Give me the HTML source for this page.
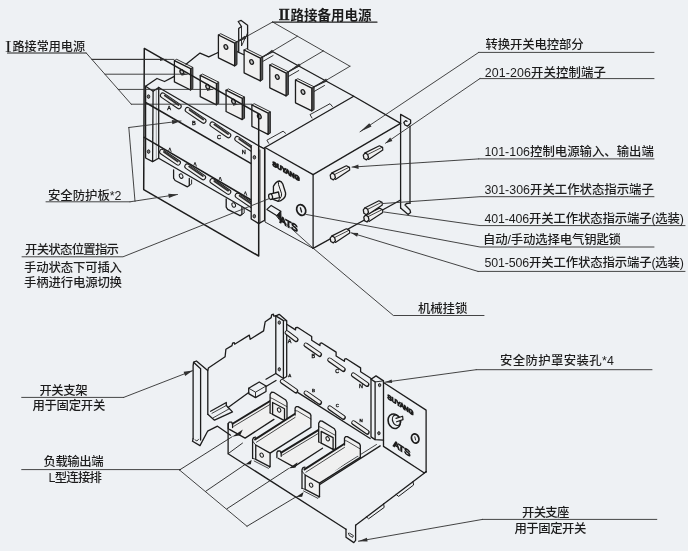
<!DOCTYPE html>
<html lang="zh"><head><meta charset="utf-8"><title>ATS</title>
<style>
html,body{margin:0;padding:0;background:#eef1f4;}
body{width:688px;height:551px;overflow:hidden;position:relative;}
svg{position:absolute;left:0;top:0;display:block;}
svg text{font-family:"Liberation Sans","Noto Sans CJK SC",sans-serif;fill:#1e1e1e;font-weight:500;}
svg g.all{filter:url(#gs);}
path{stroke-linejoin:round;stroke-linecap:round;}
</style></head><body>
<svg width="688" height="551" viewBox="0 0 688 551">
<defs><filter id="gs" filterUnits="userSpaceOnUse" x="0" y="0" width="688" height="551"><feColorMatrix type="saturate" values="0" result="g"/><feGaussianBlur in="g" stdDeviation="0.3"/></filter></defs>
<rect x="0" y="0" width="688" height="551" fill="#eef1f4"/>
<g class="all">
<path d="M272.80 51.80 L353.75 96.25" fill="none" stroke="#1c1c1c" stroke-width="1.30" />
<path d="M234.40 50.40 L244.40 55.00" fill="none" stroke="#1c1c1c" stroke-width="1.30" />
<path d="M234.70 43.10 L246.90 36.20" fill="none" stroke="#1c1c1c" stroke-width="1.30" />
<path d="M260.40 58.10 L272.60 51.20" fill="none" stroke="#1c1c1c" stroke-width="1.30" />
<path d="M262.70 61.50 L273.10 55.50" fill="none" stroke="#1c1c1c" stroke-width="0.90" />
<path d="M286.10 73.10 L298.30 66.20" fill="none" stroke="#1c1c1c" stroke-width="1.30" />
<path d="M288.40 76.50 L298.80 70.50" fill="none" stroke="#1c1c1c" stroke-width="0.90" />
<path d="M311.80 88.10 L324.00 81.20" fill="none" stroke="#1c1c1c" stroke-width="1.30" />
<path d="M314.10 91.50 L324.50 85.50" fill="none" stroke="#1c1c1c" stroke-width="0.90" />
<path d="M238.70 51.50 L238.70 28.50 L241.50 26.50 L238.20 21.50 L241.20 20.40 L247.60 25.20 L247.60 48.50" fill="none" stroke="#1c1c1c" stroke-width="1.30" />
<path d="M241.50 26.50 L241.50 46.00 L247.60 33.00" fill="none" stroke="#1c1c1c" stroke-width="0.90" />
<path d="M234.70 43.15 L237.00 41.85 L237.00 64.65 L234.70 65.95 Z" fill="#555" stroke="#1c1c1c" stroke-width="0.90" />
<path d="M218.40 35.00 L220.70 33.70 L237.00 41.85 L234.70 43.15 Z" fill="#eef1f4" stroke="#1c1c1c" stroke-width="0.90" />
<path d="M218.40 35.00 L234.70 43.15 L234.70 65.95 L218.40 57.80 Z" fill="#eef1f4" stroke="#1c1c1c" stroke-width="1.30" />
<ellipse cx="225.90" cy="46.96" rx="1.70" ry="2.40" fill="#c8c8c8" stroke="#1c1c1c" stroke-width="1.30" transform="rotate(-25 225.90 46.96)"/>
<path d="M260.40 58.15 L262.70 56.85 L262.70 79.65 L260.40 80.95 Z" fill="#555" stroke="#1c1c1c" stroke-width="0.90" />
<path d="M244.10 50.00 L246.40 48.70 L262.70 56.85 L260.40 58.15 Z" fill="#eef1f4" stroke="#1c1c1c" stroke-width="0.90" />
<path d="M244.10 50.00 L260.40 58.15 L260.40 80.95 L244.10 72.80 Z" fill="#eef1f4" stroke="#1c1c1c" stroke-width="1.30" />
<ellipse cx="251.60" cy="61.96" rx="1.70" ry="2.40" fill="#c8c8c8" stroke="#1c1c1c" stroke-width="1.30" transform="rotate(-25 251.60 61.96)"/>
<path d="M286.10 73.15 L288.40 71.85 L288.40 94.65 L286.10 95.95 Z" fill="#555" stroke="#1c1c1c" stroke-width="0.90" />
<path d="M269.80 65.00 L272.10 63.70 L288.40 71.85 L286.10 73.15 Z" fill="#eef1f4" stroke="#1c1c1c" stroke-width="0.90" />
<path d="M269.80 65.00 L286.10 73.15 L286.10 95.95 L269.80 87.80 Z" fill="#eef1f4" stroke="#1c1c1c" stroke-width="1.30" />
<ellipse cx="277.30" cy="76.96" rx="1.70" ry="2.40" fill="#c8c8c8" stroke="#1c1c1c" stroke-width="1.30" transform="rotate(-25 277.30 76.96)"/>
<path d="M311.80 88.15 L314.10 86.85 L314.10 109.65 L311.80 110.95 Z" fill="#555" stroke="#1c1c1c" stroke-width="0.90" />
<path d="M295.50 80.00 L297.80 78.70 L314.10 86.85 L311.80 88.15 Z" fill="#eef1f4" stroke="#1c1c1c" stroke-width="0.90" />
<path d="M295.50 80.00 L311.80 88.15 L311.80 110.95 L295.50 102.80 Z" fill="#eef1f4" stroke="#1c1c1c" stroke-width="1.30" />
<ellipse cx="303.00" cy="91.96" rx="1.70" ry="2.40" fill="#c8c8c8" stroke="#1c1c1c" stroke-width="1.30" transform="rotate(-25 303.00 91.96)"/>
<path d="M190.60 68.70 L192.90 67.40 L192.90 88.70 L190.60 90.00 Z" fill="#555" stroke="#1c1c1c" stroke-width="0.90" />
<path d="M174.40 60.60 L176.70 59.30 L192.90 67.40 L190.60 68.70 Z" fill="#eef1f4" stroke="#1c1c1c" stroke-width="0.90" />
<path d="M174.40 60.60 L190.60 68.70 L190.60 90.00 L174.40 81.90 Z" fill="#eef1f4" stroke="#1c1c1c" stroke-width="1.30" />
<ellipse cx="181.85" cy="71.99" rx="1.70" ry="2.40" fill="#c8c8c8" stroke="#1c1c1c" stroke-width="1.30" transform="rotate(-25 181.85 71.99)"/>
<path d="M216.43 83.50 L218.73 82.20 L218.73 103.50 L216.43 104.80 Z" fill="#555" stroke="#1c1c1c" stroke-width="0.90" />
<path d="M200.23 75.40 L202.53 74.10 L218.73 82.20 L216.43 83.50 Z" fill="#eef1f4" stroke="#1c1c1c" stroke-width="0.90" />
<path d="M200.23 75.40 L216.43 83.50 L216.43 104.80 L200.23 96.70 Z" fill="#eef1f4" stroke="#1c1c1c" stroke-width="1.30" />
<ellipse cx="207.68" cy="86.79" rx="1.70" ry="2.40" fill="#c8c8c8" stroke="#1c1c1c" stroke-width="1.30" transform="rotate(-25 207.68 86.79)"/>
<path d="M242.26 98.30 L244.56 97.00 L244.56 118.30 L242.26 119.60 Z" fill="#555" stroke="#1c1c1c" stroke-width="0.90" />
<path d="M226.06 90.20 L228.36 88.90 L244.56 97.00 L242.26 98.30 Z" fill="#eef1f4" stroke="#1c1c1c" stroke-width="0.90" />
<path d="M226.06 90.20 L242.26 98.30 L242.26 119.60 L226.06 111.50 Z" fill="#eef1f4" stroke="#1c1c1c" stroke-width="1.30" />
<ellipse cx="233.51" cy="101.59" rx="1.70" ry="2.40" fill="#c8c8c8" stroke="#1c1c1c" stroke-width="1.30" transform="rotate(-25 233.51 101.59)"/>
<path d="M268.09 113.10 L270.39 111.80 L270.39 133.10 L268.09 134.40 Z" fill="#555" stroke="#1c1c1c" stroke-width="0.90" />
<path d="M251.89 105.00 L254.19 103.70 L270.39 111.80 L268.09 113.10 Z" fill="#eef1f4" stroke="#1c1c1c" stroke-width="0.90" />
<path d="M251.89 105.00 L268.09 113.10 L268.09 134.40 L251.89 126.30 Z" fill="#eef1f4" stroke="#1c1c1c" stroke-width="1.30" />
<ellipse cx="259.34" cy="116.39" rx="1.70" ry="2.40" fill="#c8c8c8" stroke="#1c1c1c" stroke-width="1.30" transform="rotate(-25 259.34 116.39)"/>
<path d="M145.60 86.30 L157.00 78.50 L164.50 81.50 L174.40 76.30" fill="none" stroke="#1c1c1c" stroke-width="1.30" />
<path d="M186.00 64.20 L200.00 53.10 L208.75 56.90 L218.10 52.50" fill="none" stroke="#1c1c1c" stroke-width="1.30" />
<path d="M145.60 86.30 L145.60 158.00 L152.60 161.60 L158.70 158.20 L158.70 87.50" fill="none" stroke="#1c1c1c" stroke-width="1.30" />
<path d="M153.10 91.20 L152.60 161.60" fill="none" stroke="#1c1c1c" stroke-width="1.30" />
<path d="M145.60 86.30 L153.10 91.20 L158.70 87.50" fill="none" stroke="#1c1c1c" stroke-width="1.30" />
<path d="M156.30 89.20 L156.30 159.50" fill="none" stroke="#555" stroke-width="0.50" />
<ellipse cx="148.50" cy="96.60" rx="1.30" ry="1.80" fill="#777" stroke="#1c1c1c" stroke-width="0.90" transform="rotate(0 148.50 96.60)"/>
<ellipse cx="148.60" cy="151.60" rx="1.30" ry="1.80" fill="#777" stroke="#1c1c1c" stroke-width="0.90" transform="rotate(0 148.60 151.60)"/>
<path d="M158.70 87.50 L263.75 148.75" fill="none" stroke="#1c1c1c" stroke-width="1.30" />
<path d="M145.60 102.50 L251.20 163.60" fill="none" stroke="#1c1c1c" stroke-width="1.50" />
<path d="M144.20 137.40 L251.20 200.00" fill="none" stroke="#1c1c1c" stroke-width="1.50" />
<path d="M158.70 158.20 L250.50 211.50" fill="none" stroke="#1c1c1c" stroke-width="1.30" />
<path d="M162.80 95.40 L178.80 106.33" stroke="#1c1c1c" stroke-width="5.8" stroke-linecap="round" fill="none"/>
<path d="M162.80 95.40 L178.80 106.33" stroke="#eef1f4" stroke-width="3.7" stroke-linecap="round" fill="none"/>
<path d="M164.80 95.50 L178.50 105.03" stroke="#333" stroke-width="1.9" stroke-linecap="butt" fill="none"/>
<path d="M187.60 109.90 L203.60 120.83" stroke="#1c1c1c" stroke-width="5.8" stroke-linecap="round" fill="none"/>
<path d="M187.60 109.90 L203.60 120.83" stroke="#eef1f4" stroke-width="3.7" stroke-linecap="round" fill="none"/>
<path d="M189.60 110.00 L203.30 119.53" stroke="#333" stroke-width="1.9" stroke-linecap="butt" fill="none"/>
<path d="M212.40 124.40 L228.40 135.32" stroke="#1c1c1c" stroke-width="5.8" stroke-linecap="round" fill="none"/>
<path d="M212.40 124.40 L228.40 135.32" stroke="#eef1f4" stroke-width="3.7" stroke-linecap="round" fill="none"/>
<path d="M214.40 124.50 L228.10 134.03" stroke="#333" stroke-width="1.9" stroke-linecap="butt" fill="none"/>
<path d="M237.20 138.90 L253.20 149.82" stroke="#1c1c1c" stroke-width="5.8" stroke-linecap="round" fill="none"/>
<path d="M237.20 138.90 L253.20 149.82" stroke="#eef1f4" stroke-width="3.7" stroke-linecap="round" fill="none"/>
<path d="M239.20 139.00 L252.90 148.53" stroke="#333" stroke-width="1.9" stroke-linecap="butt" fill="none"/>
<path d="M162.00 151.80 L178.00 162.72" stroke="#1c1c1c" stroke-width="5.8" stroke-linecap="round" fill="none"/>
<path d="M162.00 151.80 L178.00 162.72" stroke="#eef1f4" stroke-width="3.7" stroke-linecap="round" fill="none"/>
<path d="M164.00 151.90 L177.70 161.43" stroke="#333" stroke-width="1.9" stroke-linecap="butt" fill="none"/>
<path d="M168.80 150.40 L169.80 147.80 L171.10 151.50" fill="none" stroke="#1c1c1c" stroke-width="0.90" />
<path d="M187.20 166.40 L203.20 177.32" stroke="#1c1c1c" stroke-width="5.8" stroke-linecap="round" fill="none"/>
<path d="M187.20 166.40 L203.20 177.32" stroke="#eef1f4" stroke-width="3.7" stroke-linecap="round" fill="none"/>
<path d="M189.20 166.50 L202.90 176.03" stroke="#333" stroke-width="1.9" stroke-linecap="butt" fill="none"/>
<path d="M194.00 165.00 L195.00 162.40 L196.30 166.10" fill="none" stroke="#1c1c1c" stroke-width="0.90" />
<path d="M212.40 181.00 L228.40 191.92" stroke="#1c1c1c" stroke-width="5.8" stroke-linecap="round" fill="none"/>
<path d="M212.40 181.00 L228.40 191.92" stroke="#eef1f4" stroke-width="3.7" stroke-linecap="round" fill="none"/>
<path d="M214.40 181.10 L228.10 190.62" stroke="#333" stroke-width="1.9" stroke-linecap="butt" fill="none"/>
<path d="M219.20 179.60 L220.20 177.00 L221.50 180.70" fill="none" stroke="#1c1c1c" stroke-width="0.90" />
<path d="M237.60 195.60 L253.60 206.52" stroke="#1c1c1c" stroke-width="5.8" stroke-linecap="round" fill="none"/>
<path d="M237.60 195.60 L253.60 206.52" stroke="#eef1f4" stroke-width="3.7" stroke-linecap="round" fill="none"/>
<path d="M239.60 195.70 L253.30 205.22" stroke="#333" stroke-width="1.9" stroke-linecap="butt" fill="none"/>
<path d="M244.40 194.20 L245.40 191.60 L246.70 195.30" fill="none" stroke="#1c1c1c" stroke-width="0.90" />
<path d="M173.60 169.90 L173.60 178.20 L175.10 180.50 L187.40 186.80 L189.30 185.50 L189.30 178.50" fill="none" stroke="#1c1c1c" stroke-width="1.30" />
<path d="M189.30 185.50 L191.60 184.10 L191.60 179.90" fill="none" stroke="#1c1c1c" stroke-width="0.90" />
<ellipse cx="181.10" cy="176.10" rx="1.70" ry="2.30" fill="none" stroke="#1c1c1c" stroke-width="1.00" transform="rotate(-25 181.10 176.10)"/>
<path d="M226.20 198.80 L226.20 207.10 L227.70 209.40 L240.00 215.70 L241.90 214.40 L241.90 207.40" fill="none" stroke="#1c1c1c" stroke-width="1.30" />
<path d="M241.90 214.40 L244.20 213.00 L244.20 208.80" fill="none" stroke="#1c1c1c" stroke-width="0.90" />
<ellipse cx="233.70" cy="205.00" rx="1.70" ry="2.30" fill="none" stroke="#1c1c1c" stroke-width="1.00" transform="rotate(-25 233.70 205.00)"/>
<path d="M251.20 145.60 L251.20 219.00 L258.70 223.60 L264.60 220.20 L264.60 148.90 L258.70 146.00" fill="#eef1f4" stroke="#1c1c1c" stroke-width="1.30" />
<path d="M258.70 149.00 L258.70 223.60" fill="none" stroke="#1c1c1c" stroke-width="0.90" />
<ellipse cx="254.40" cy="157.30" rx="1.30" ry="1.80" fill="#777" stroke="#1c1c1c" stroke-width="0.90" transform="rotate(0 254.40 157.30)"/>
<ellipse cx="254.30" cy="216.20" rx="1.30" ry="1.80" fill="#777" stroke="#1c1c1c" stroke-width="0.90" transform="rotate(0 254.30 216.20)"/>
<path d="M144.30 48.40 L258.70 113.75 L258.70 256.00 L143.70 189.60 Z" fill="none" stroke="#1c1c1c" stroke-width="1.50" />
<path d="M265.00 147.50 L353.75 96.25 L400.60 123.40" fill="none" stroke="#1c1c1c" stroke-width="1.30" />
<path d="M265.00 147.50 L313.10 174.60 L400.60 123.40" fill="none" stroke="#1c1c1c" stroke-width="1.30" />
<path d="M313.10 174.60 L313.10 248.40" fill="none" stroke="#1c1c1c" stroke-width="1.30" />
<path d="M265.00 147.50 L265.00 222.00 L313.10 248.40" fill="none" stroke="#1c1c1c" stroke-width="0.90" />
<path d="M313.10 248.40 L400.60 200.00" fill="none" stroke="#1c1c1c" stroke-width="1.30" />
<path d="M268.70 143.30 L266.90 140.20 L283.10 131.20 L285.60 133.30" fill="none" stroke="#1c1c1c" stroke-width="0.90" />
<path d="M312.00 118.00 L310.00 114.60 L330.00 103.70 L332.40 106.50" fill="none" stroke="#1c1c1c" stroke-width="0.90" />
<path d="M260.00 150.00 L260.00 222.50" fill="none" stroke="#1c1c1c" stroke-width="0.80" />
<path d="M400.60 208.10 L400.60 114.40 L410.60 120.00 L410.60 123.20 L407.50 126.20 L405.00 125.00 L403.80 122.50 L405.60 120.60 L407.00 121.30" fill="none" stroke="#1c1c1c" stroke-width="1.30" />
<path d="M410.00 126.20 L410.00 203.20" fill="none" stroke="#1c1c1c" stroke-width="1.30" />
<path d="M400.60 208.10 L408.10 214.40 L410.60 212.50 L410.00 210.00 L405.00 205.00 L406.50 203.50 L410.00 203.20" fill="none" stroke="#1c1c1c" stroke-width="1.30" />
<path d="M365.10 152.90 L379.40 145.75 L382.60 147.35 L382.80 150.05 L368.50 159.40" fill="#eef1f4" stroke="#1c1c1c" stroke-width="1.20" />
<path d="M367.50 154.60 L381.80 147.45" fill="none" stroke="#1c1c1c" stroke-width="0.80" />
<path d="M365.10 152.90 L367.70 154.50 L368.50 157.70 L366.50 159.90 L363.90 158.50 L363.30 155.10 Z" fill="#eef1f4" stroke="#1c1c1c" stroke-width="1.30" />
<path d="M332.00 172.90 L346.30 165.75 L349.50 167.35 L349.70 170.05 L335.40 179.40" fill="#eef1f4" stroke="#1c1c1c" stroke-width="1.20" />
<path d="M334.40 174.60 L348.70 167.45" fill="none" stroke="#1c1c1c" stroke-width="0.80" />
<path d="M332.00 172.90 L334.60 174.50 L335.40 177.70 L333.40 179.90 L330.80 178.50 L330.20 175.10 Z" fill="#eef1f4" stroke="#1c1c1c" stroke-width="1.30" />
<path d="M365.60 215.00 L379.40 208.10 L382.60 209.70 L382.80 212.40 L369.00 221.50" fill="#eef1f4" stroke="#1c1c1c" stroke-width="1.20" />
<path d="M368.00 216.70 L381.80 209.80" fill="none" stroke="#1c1c1c" stroke-width="0.80" />
<path d="M365.60 215.00 L368.20 216.60 L369.00 219.80 L367.00 222.00 L364.40 220.60 L363.80 217.20 Z" fill="#eef1f4" stroke="#1c1c1c" stroke-width="1.30" />
<path d="M365.10 207.70 L378.90 200.80 L382.10 202.40 L382.30 205.10 L368.50 214.20" fill="#eef1f4" stroke="#1c1c1c" stroke-width="1.20" />
<path d="M367.50 209.40 L381.30 202.50" fill="none" stroke="#1c1c1c" stroke-width="0.80" />
<path d="M365.10 207.70 L367.70 209.30 L368.50 212.50 L366.50 214.70 L363.90 213.30 L363.30 209.90 Z" fill="#eef1f4" stroke="#1c1c1c" stroke-width="1.30" />
<path d="M332.00 235.90 L346.30 228.75 L349.50 230.35 L349.70 233.05 L335.40 242.40" fill="#eef1f4" stroke="#1c1c1c" stroke-width="1.20" />
<path d="M334.40 237.60 L348.70 230.45" fill="none" stroke="#1c1c1c" stroke-width="0.80" />
<path d="M332.00 235.90 L334.60 237.50 L335.40 240.70 L333.40 242.90 L330.80 241.50 L330.20 238.10 Z" fill="#eef1f4" stroke="#1c1c1c" stroke-width="1.30" />
<path d="M273.4 186.4 Q275.8 181.6 279.3 181 Q281.6 181.2 282.8 184 L285.6 193 Q286 196.4 283.4 198.8 Q280.4 201.6 277.8 201.2 L273.6 199.6 Z" fill="#eef1f4" stroke="#1c1c1c" stroke-width="1.3"/>
<path d="M279.3 181 Q277.9 182.4 278.5 184.6 L281.6 193.8 Q282 196.6 279.7 198.8 L277.8 201.2" fill="none" stroke="#1c1c1c" stroke-width="1.0"/>
<path d="M270.80 193.90 L278.40 192.00 L279.60 197.60 L271.20 199.40" fill="#eef1f4" stroke="#1c1c1c" stroke-width="1.30" />
<ellipse cx="270.60" cy="196.70" rx="1.90" ry="2.80" fill="#eef1f4" stroke="#1c1c1c" stroke-width="1.30" transform="rotate(-12 270.60 196.70)"/>
<ellipse cx="301.20" cy="210.00" rx="4.30" ry="5.60" fill="none" stroke="#1c1c1c" stroke-width="1.70" transform="rotate(-25 301.20 210.00)"/>
<path d="M300.40 207.80 L301.60 212.00" fill="none" stroke="#1c1c1c" stroke-width="1.30" />
<path d="M266.90 209.40 L271.20 205.40 L280.80 211.20 L276.90 215.80 Z" fill="none" stroke="#1c1c1c" stroke-width="1.20" />
<path d="M276.90 215.80 L280.80 211.20 L281.20 221.60 Z" fill="#1c1c1c" stroke="#1c1c1c" stroke-width="1.00" />
<path d="M193.10 438.70 L193.10 365.80 L193.60 362.20 L196.40 361.00 L207.70 370.60" fill="none" stroke="#1c1c1c" stroke-width="1.30" />
<path d="M193.80 362.50 L200.60 368.80 L200.60 440.00" fill="none" stroke="#1c1c1c" stroke-width="1.30" />
<path d="M193.10 438.70 L192.50 441.30 L200.00 445.60 L207.60 431.20 L217.50 426.20 L230.50 435.20" fill="none" stroke="#1c1c1c" stroke-width="1.30" />
<path d="M195.00 439.80 L197.00 441.00 L198.60 439.20" fill="none" stroke="#1c1c1c" stroke-width="0.80" />
<path d="M207.80 414.40 L207.80 370.60 L208.40 368.00 L225.10 356.80 L225.90 349.30 L232.00 345.60 L232.60 343.20 L234.20 342.60 L234.60 344.20 L249.30 335.10 L250.20 339.30 L263.60 330.90 L265.20 321.70 L271.20 317.60 L271.60 314.80 L273.40 314.20 L273.80 316.20 L275.80 315.90" fill="none" stroke="#1c1c1c" stroke-width="1.30" />
<path d="M208.10 414.40 L214.50 420.20 L232.50 411.90 L226.30 405.50 L226.30 402.50 L210.60 411.30" fill="none" stroke="#1c1c1c" stroke-width="1.30" />
<path d="M226.30 405.50 L212.00 413.30" fill="none" stroke="#1c1c1c" stroke-width="0.80" />
<path d="M229.40 408.70 L213.20 417.80" fill="none" stroke="#1c1c1c" stroke-width="0.80" />
<path d="M228.10 407.50 L248.70 392.50" fill="none" stroke="#1c1c1c" stroke-width="1.30" />
<path d="M266.00 386.50 L276.00 380.50" fill="none" stroke="#1c1c1c" stroke-width="1.30" />
<path d="M248.70 388.20 L259.20 382.00 L266.00 386.00 L266.00 391.50 L255.50 397.60 L248.70 393.60 Z" fill="none" stroke="#1c1c1c" stroke-width="1.30" />
<path d="M248.70 388.20 L255.50 392.20 L255.50 397.60" fill="none" stroke="#1c1c1c" stroke-width="0.90" />
<path d="M255.50 392.20 L266.00 386.00" fill="none" stroke="#1c1c1c" stroke-width="0.90" />
<path d="M275.80 315.90 L275.80 373.50 L283.40 378.50 L286.70 376.50 L286.70 320.80 L279.20 314.30 Z" fill="none" stroke="#1c1c1c" stroke-width="1.30" />
<path d="M275.80 315.90 L283.40 320.60 L283.40 378.50" fill="none" stroke="#1c1c1c" stroke-width="1.30" />
<path d="M283.40 320.60 L286.70 320.80" fill="none" stroke="#1c1c1c" stroke-width="0.80" />
<ellipse cx="279.30" cy="322.60" rx="1.20" ry="1.70" fill="#777" stroke="#1c1c1c" stroke-width="0.90" transform="rotate(0 279.30 322.60)"/>
<ellipse cx="279.30" cy="369.30" rx="1.20" ry="1.70" fill="#777" stroke="#1c1c1c" stroke-width="0.90" transform="rotate(0 279.30 369.30)"/>
<path d="M275.80 373.50 L266.00 379.20" fill="none" stroke="#1c1c1c" stroke-width="1.30" />
<path d="M286.70 324.20 L295.50 329.86 L295.70 327.66 L297.40 327.28 L311.70 336.47 L311.70 340.27 L319.90 345.55 L320.10 343.35 L321.80 342.97 L336.10 352.16 L336.10 355.96 L344.40 361.30 L344.60 359.10 L346.30 358.72 L360.60 367.92 L360.60 371.72 L371.90 378.98" fill="none" stroke="#1c1c1c" stroke-width="1.30" />
<path d="M298.00 392.60 L370.20 438.50" fill="none" stroke="#1c1c1c" stroke-width="1.30" />
<path d="M287.00 332.80 L296.20 339.78" stroke="#1c1c1c" stroke-width="4.9" stroke-linecap="round" fill="none"/>
<path d="M286.90 332.50 L295.90 339.38" stroke="#eef1f4" stroke-width="2.7" stroke-linecap="round" fill="none"/>
<path d="M282.20 381.50 L295.90 391.06" stroke="#1c1c1c" stroke-width="4.9" stroke-linecap="round" fill="none"/>
<path d="M282.10 381.20 L295.60 390.66" stroke="#eef1f4" stroke-width="2.7" stroke-linecap="round" fill="none"/>
<path d="M305.95 345.05 L319.65 354.61" stroke="#1c1c1c" stroke-width="4.9" stroke-linecap="round" fill="none"/>
<path d="M305.85 344.75 L319.35 354.21" stroke="#eef1f4" stroke-width="2.7" stroke-linecap="round" fill="none"/>
<path d="M306.00 393.00 L319.70 402.56" stroke="#1c1c1c" stroke-width="4.9" stroke-linecap="round" fill="none"/>
<path d="M305.90 392.70 L319.40 402.16" stroke="#eef1f4" stroke-width="2.7" stroke-linecap="round" fill="none"/>
<path d="M329.65 360.00 L343.35 369.56" stroke="#1c1c1c" stroke-width="4.9" stroke-linecap="round" fill="none"/>
<path d="M329.55 359.70 L343.05 369.16" stroke="#eef1f4" stroke-width="2.7" stroke-linecap="round" fill="none"/>
<path d="M329.80 407.90 L343.50 417.46" stroke="#1c1c1c" stroke-width="4.9" stroke-linecap="round" fill="none"/>
<path d="M329.70 407.60 L343.20 417.06" stroke="#eef1f4" stroke-width="2.7" stroke-linecap="round" fill="none"/>
<path d="M353.35 374.95 L367.05 384.51" stroke="#1c1c1c" stroke-width="4.9" stroke-linecap="round" fill="none"/>
<path d="M353.25 374.65 L366.75 384.11" stroke="#eef1f4" stroke-width="2.7" stroke-linecap="round" fill="none"/>
<path d="M353.60 422.80 L367.30 432.36" stroke="#1c1c1c" stroke-width="4.9" stroke-linecap="round" fill="none"/>
<path d="M353.50 422.50 L367.00 431.96" stroke="#eef1f4" stroke-width="2.7" stroke-linecap="round" fill="none"/>
<path d="M371.00 379.20 L371.00 436.90 L375.10 439.60 L383.50 440.20 L383.50 380.90 L376.00 375.90 Z" fill="none" stroke="#1c1c1c" stroke-width="1.30" />
<path d="M371.00 379.20 L375.10 381.90 L375.10 439.60" fill="none" stroke="#1c1c1c" stroke-width="1.30" />
<path d="M375.10 381.90 L383.50 380.90" fill="none" stroke="#1c1c1c" stroke-width="0.90" />
<ellipse cx="379.60" cy="385.10" rx="1.20" ry="1.60" fill="#777" stroke="#1c1c1c" stroke-width="0.90" transform="rotate(0 379.60 385.10)"/>
<ellipse cx="378.90" cy="433.20" rx="1.20" ry="1.60" fill="#777" stroke="#1c1c1c" stroke-width="0.90" transform="rotate(0 378.90 433.20)"/>
<path d="M383.50 382.50 L426.10 410.10 L426.10 471.80" fill="none" stroke="#1c1c1c" stroke-width="1.30" />
<path d="M383.50 440.20 L383.50 446.40 L424.00 472.80 L426.10 471.80" fill="none" stroke="#1c1c1c" stroke-width="1.30" />
<ellipse cx="394.20" cy="421.20" rx="6.00" ry="7.40" fill="none" stroke="#1c1c1c" stroke-width="1.60" transform="rotate(-20 394.20 421.20)"/>
<ellipse cx="396.60" cy="420.20" rx="4.00" ry="5.40" fill="none" stroke="#1c1c1c" stroke-width="1.20" transform="rotate(-20 396.60 420.20)"/>
<path d="M396.00 418.40 L402.60 416.20 L403.00 419.60 L396.60 421.80" fill="#eef1f4" stroke="#1c1c1c" stroke-width="1.20" />
<ellipse cx="415.20" cy="438.50" rx="3.60" ry="4.60" fill="none" stroke="#1c1c1c" stroke-width="1.80" transform="rotate(-20 415.20 438.50)"/>
<path d="M414.80 436.80 L415.60 440.00" fill="none" stroke="#1c1c1c" stroke-width="0.90" />
<path d="M380.20 445.90 L318.60 485.20" fill="none" stroke="#1c1c1c" stroke-width="1.30" />
<path d="M376.50 444.50 L335.00 470.50" fill="none" stroke="#1c1c1c" stroke-width="0.80" />
<path d="M426.10 471.80 L355.60 525.20" fill="none" stroke="#1c1c1c" stroke-width="1.30" />
<path d="M413.00 481.60 L413.60 485.00 L398.60 496.40 L396.20 494.40" fill="none" stroke="#1c1c1c" stroke-width="1.00" />
<path d="M383.60 503.80 L384.20 507.40 L368.60 518.80 L366.20 516.60" fill="none" stroke="#1c1c1c" stroke-width="1.00" />
<path d="M228.10 423.40 L228.10 453.70 L346.00 529.20" fill="none" stroke="#1c1c1c" stroke-width="1.30" />
<path d="M346.00 529.20 L346.00 537.20 L353.80 542.60 L355.60 540.40 L355.60 525.20" fill="none" stroke="#1c1c1c" stroke-width="1.30" />
<path d="M348.40 533.20 L349.20 535.40 L352.60 537.40 L353.40 535.60 L349.60 533.20" fill="none" stroke="#1c1c1c" stroke-width="0.90" />
<path d="M228.10 453.70 L242.50 443.10" fill="none" stroke="#1c1c1c" stroke-width="0.90" />
<path d="M232.60 423.75 L270.10 401.00 L273.90 419.40 L245.10 438.10 L229.50 429.40 Z" fill="#eef1f4" stroke="none" stroke-width="0.90" />
<path d="M232.60 423.75 L270.10 401.00" fill="none" stroke="#1c1c1c" stroke-width="2.00" />
<path d="M233.80 426.30 L270.10 404.40" fill="none" stroke="#1c1c1c" stroke-width="0.80" />
<path d="M229.50 429.40 L245.10 438.10 L273.90 419.40" fill="none" stroke="#1c1c1c" stroke-width="1.30" />
<path d="M228.30 428.80 L228.30 423.60 L229.30 422.20 L231.60 422.20 L232.60 423.75 L232.60 427.50" fill="none" stroke="#1c1c1c" stroke-width="1.30" />
<path d="M270.10 413.10 L270.10 394.30 L271.60 392.10 L273.60 392.30 L285.80 400.00 L287.00 402.50 L287.00 420.00 L284.50 420.60" fill="#eef1f4" stroke="#1c1c1c" stroke-width="1.30" />
<path d="M272.60 402.50 L284.50 408.75 L284.50 420.60 L272.60 414.40 Z" fill="#eef1f4" stroke="#1c1c1c" stroke-width="1.30" />
<path d="M270.10 413.10 L272.60 414.40" fill="none" stroke="#1c1c1c" stroke-width="0.90" />
<path d="M270.30 397.80 L272.60 398.60 L286.80 406.60" fill="none" stroke="#1c1c1c" stroke-width="0.80" />
<ellipse cx="279.10" cy="410.00" rx="1.60" ry="2.20" fill="none" stroke="#1c1c1c" stroke-width="1.00" transform="rotate(-25 279.10 410.00)"/>
<path d="M281.20 452.55 L318.70 429.80 L322.50 448.20 L293.70 466.90 L278.10 458.20 Z" fill="#eef1f4" stroke="none" stroke-width="0.90" />
<path d="M281.20 452.55 L318.70 429.80" fill="none" stroke="#1c1c1c" stroke-width="2.00" />
<path d="M282.40 455.10 L318.70 433.20" fill="none" stroke="#1c1c1c" stroke-width="0.80" />
<path d="M278.10 458.20 L293.70 466.90 L322.50 448.20" fill="none" stroke="#1c1c1c" stroke-width="1.30" />
<path d="M276.90 457.60 L276.90 452.40 L277.90 451.00 L280.20 451.00 L281.20 452.55 L281.20 456.30" fill="none" stroke="#1c1c1c" stroke-width="1.30" />
<path d="M318.70 441.90 L318.70 423.10 L320.20 420.90 L322.20 421.10 L334.40 428.80 L335.60 431.30 L335.60 448.80 L333.10 449.40" fill="#eef1f4" stroke="#1c1c1c" stroke-width="1.30" />
<path d="M321.20 431.30 L333.10 437.55 L333.10 449.40 L321.20 443.20 Z" fill="#eef1f4" stroke="#1c1c1c" stroke-width="1.30" />
<path d="M318.70 441.90 L321.20 443.20" fill="none" stroke="#1c1c1c" stroke-width="0.90" />
<path d="M318.90 426.60 L321.20 427.40 L335.40 435.40" fill="none" stroke="#1c1c1c" stroke-width="0.80" />
<ellipse cx="327.70" cy="438.80" rx="1.60" ry="2.20" fill="none" stroke="#1c1c1c" stroke-width="1.00" transform="rotate(-25 327.70 438.80)"/>
<path d="M255.10 439.40 L295.10 413.75 L310.90 421.50 L270.10 453.10 Z" fill="#eef1f4" stroke="none" stroke-width="0.90" />
<path d="M255.10 439.40 L295.10 413.75" fill="none" stroke="#1c1c1c" stroke-width="2.00" />
<path d="M256.50 442.20 L295.10 417.40" fill="none" stroke="#1c1c1c" stroke-width="0.80" />
<path d="M270.10 453.10 L310.50 427.60" fill="none" stroke="#1c1c1c" stroke-width="1.30" />
<path d="M295.10 415.00 L295.10 408.20 L296.20 406.60 L298.00 406.60 L310.00 413.60 L310.90 415.40 L310.90 427.40" fill="#eef1f4" stroke="#1c1c1c" stroke-width="1.30" />
<path d="M295.10 410.60 L297.40 411.00 L310.90 419.00" fill="none" stroke="#1c1c1c" stroke-width="0.80" />
<path d="M252.60 458.40 L252.60 439.60 L253.60 437.60 L255.60 437.20" fill="none" stroke="#1c1c1c" stroke-width="1.30" />
<path d="M255.75 445.00 L270.10 453.10 L270.10 466.80 L255.75 459.30 Z" fill="#eef1f4" stroke="#1c1c1c" stroke-width="1.30" />
<path d="M252.60 458.40 L255.75 459.30" fill="none" stroke="#1c1c1c" stroke-width="0.90" />
<path d="M252.60 441.20 L255.75 445.00" fill="none" stroke="#1c1c1c" stroke-width="0.80" />
<path d="M254.20 461.00 L268.60 468.40 L270.10 466.80" fill="none" stroke="#1c1c1c" stroke-width="0.80" />
<ellipse cx="261.70" cy="455.10" rx="1.60" ry="2.20" fill="none" stroke="#1c1c1c" stroke-width="1.00" transform="rotate(-25 261.70 455.10)"/>
<path d="M304.50 469.40 L344.50 443.75 L360.30 451.50 L319.50 483.10 Z" fill="#eef1f4" stroke="none" stroke-width="0.90" />
<path d="M304.50 469.40 L344.50 443.75" fill="none" stroke="#1c1c1c" stroke-width="2.00" />
<path d="M305.90 472.20 L344.50 447.40" fill="none" stroke="#1c1c1c" stroke-width="0.80" />
<path d="M319.50 483.10 L359.90 457.60" fill="none" stroke="#1c1c1c" stroke-width="1.30" />
<path d="M344.50 445.00 L344.50 438.20 L345.60 436.60 L347.40 436.60 L359.40 443.60 L360.30 445.40 L360.30 457.40" fill="#eef1f4" stroke="#1c1c1c" stroke-width="1.30" />
<path d="M344.50 440.60 L346.80 441.00 L360.30 449.00" fill="none" stroke="#1c1c1c" stroke-width="0.80" />
<path d="M302.00 488.40 L302.00 469.60 L303.00 467.60 L305.00 467.20" fill="none" stroke="#1c1c1c" stroke-width="1.30" />
<path d="M305.15 475.00 L319.50 483.10 L319.50 496.80 L305.15 489.30 Z" fill="#eef1f4" stroke="#1c1c1c" stroke-width="1.30" />
<path d="M302.00 488.40 L305.15 489.30" fill="none" stroke="#1c1c1c" stroke-width="0.90" />
<path d="M302.00 471.20 L305.15 475.00" fill="none" stroke="#1c1c1c" stroke-width="0.80" />
<path d="M303.60 491.00 L318.00 498.40 L319.50 496.80" fill="none" stroke="#1c1c1c" stroke-width="0.80" />
<ellipse cx="311.10" cy="485.10" rx="1.60" ry="2.20" fill="none" stroke="#1c1c1c" stroke-width="1.00" transform="rotate(-25 311.10 485.10)"/>
<path d="M272.60 22.00 L377.00 22.00" fill="none" stroke="#222" stroke-width="1.25" />
<path d="M272.60 22.00 L350.00 66.25" fill="none" stroke="#303030" stroke-width="0.90" />
<path d="M272.60 22.00 L235.00 42.90" fill="none" stroke="#303030" stroke-width="0.90" />
<path d="M235.00 42.90 L244.76 35.76 L246.22 38.38 Z" fill="#303030"/>
<path d="M297.50 36.20 L262.50 57.20" fill="none" stroke="#303030" stroke-width="0.90" />
<path d="M262.50 57.20 L272.02 49.74 L273.56 52.31 Z" fill="#303030"/>
<path d="M323.50 50.80 L289.50 70.80" fill="none" stroke="#303030" stroke-width="0.90" />
<path d="M289.50 70.80 L299.08 63.42 L300.60 66.01 Z" fill="#303030"/>
<path d="M350.00 66.25 L316.50 86.00" fill="none" stroke="#303030" stroke-width="0.90" />
<path d="M316.50 86.00 L326.08 78.61 L327.60 81.20 Z" fill="#303030"/>
<path d="M7.50 53.00 L86.25 53.00" fill="none" stroke="#222" stroke-width="1.10" />
<path d="M86.25 53.00 L131.25 104.20" fill="none" stroke="#303030" stroke-width="0.90" />
<path d="M92.00 59.40 L174.00 59.40" fill="none" stroke="#303030" stroke-width="0.90" />
<path d="M92.00 59.40 L166.00 59.40" fill="none" stroke="#303030" stroke-width="0.90" />
<path d="M166.00 59.40 L160.00 60.90 L160.00 57.90 Z" fill="#303030"/>
<path d="M105.00 74.20 L187.50 74.20" fill="none" stroke="#303030" stroke-width="0.90" />
<path d="M187.50 74.20 L181.50 75.70 L181.50 72.70 Z" fill="#303030"/>
<path d="M118.30 89.40 L213.00 89.40" fill="none" stroke="#303030" stroke-width="0.90" />
<path d="M213.00 89.40 L207.00 90.90 L207.00 87.90 Z" fill="#303030"/>
<path d="M131.25 104.20 L239.00 104.20" fill="none" stroke="#303030" stroke-width="0.90" />
<path d="M239.00 104.20 L233.00 105.70 L233.00 102.70 Z" fill="#303030"/>
<path d="M239.00 104.20 L252.00 104.20" fill="none" stroke="#303030" stroke-width="0.90" />
<path d="M478.75 52.40 L654.00 52.40" fill="none" stroke="#303030" stroke-width="0.90" />
<path d="M478.75 52.40 L360.00 131.80" fill="none" stroke="#303030" stroke-width="0.90" />
<path d="M360.00 131.80 L369.28 123.19 L371.50 126.51 Z" fill="#303030"/>
<path d="M479.90 78.60 L654.00 78.60" fill="none" stroke="#303030" stroke-width="0.90" />
<path d="M479.90 78.60 L385.50 143.20" fill="none" stroke="#303030" stroke-width="0.90" />
<path d="M385.50 143.20 L390.15 137.60 L392.41 140.90 Z" fill="#303030"/>
<path d="M478.75 158.90 L654.00 158.90" fill="none" stroke="#303030" stroke-width="0.90" />
<path d="M478.75 158.90 L352.00 167.10" fill="none" stroke="#303030" stroke-width="0.90" />
<path d="M352.00 167.10 L358.34 164.48 L358.63 168.88 Z" fill="#303030"/>
<path d="M383.00 203.50 L480.00 196.70 L654.00 196.70" fill="none" stroke="#303030" stroke-width="0.90" />
<path d="M384.00 212.00 L480.00 225.60 L685.00 225.60" fill="none" stroke="#303030" stroke-width="0.90" />
<path d="M306.50 214.50 L480.00 247.00 L654.00 247.00" fill="none" stroke="#303030" stroke-width="0.90" />
<path d="M478.00 271.40 L685.00 271.40" fill="none" stroke="#303030" stroke-width="0.90" />
<path d="M478.00 271.40 L351.00 232.80" fill="none" stroke="#303030" stroke-width="0.90" />
<path d="M351.00 232.80 L358.28 232.92 L357.12 236.75 Z" fill="#303030"/>
<path d="M46.00 201.80 L130.00 201.80" fill="none" stroke="#303030" stroke-width="0.90" />
<path d="M130.00 201.80 L177.50 194.50" fill="none" stroke="#303030" stroke-width="0.90" />
<path d="M177.50 194.50 L168.94 198.04 L168.27 193.69 Z" fill="#303030"/>
<path d="M135.00 201.30 L128.80 127.50" fill="none" stroke="#303030" stroke-width="0.90" />
<path d="M128.80 127.50 L181.00 121.00" fill="none" stroke="#303030" stroke-width="0.90" />
<path d="M181.00 121.00 L172.34 124.30 L171.80 119.93 Z" fill="#303030"/>
<path d="M22.00 256.80 L123.00 256.80 L268.70 198.80" fill="none" stroke="#303030" stroke-width="0.90" />
<path d="M278.00 216.50 L313.40 248.40 L393.40 315.50 L484.00 315.50" fill="none" stroke="#303030" stroke-width="0.90" />
<path d="M476.20 369.70 L652.00 369.70" fill="none" stroke="#303030" stroke-width="0.90" />
<path d="M476.20 369.70 L385.00 382.20" fill="none" stroke="#303030" stroke-width="0.90" />
<path d="M385.00 382.20 L391.69 379.47 L392.18 383.03 Z" fill="#303030"/>
<path d="M21.70 397.40 L123.70 397.40" fill="none" stroke="#303030" stroke-width="0.90" />
<path d="M123.70 397.40 L192.80 370.60" fill="none" stroke="#303030" stroke-width="0.90" />
<path d="M192.80 370.60 L185.20 375.91 L183.61 371.80 Z" fill="#303030"/>
<path d="M21.70 469.60 L180.50 469.60" fill="none" stroke="#303030" stroke-width="0.90" />
<path d="M179.50 470.00 L247.00 526.25" fill="none" stroke="#303030" stroke-width="0.90" />
<path d="M179.50 470.00 L232.00 436.80" fill="none" stroke="#222" stroke-width="0.90" />
<path d="M232.00 436.80 L242.83 429.60 L240.20 435.17 Z" fill="#222"/>
<path d="M205.75 491.25 L245.20 464.40" fill="none" stroke="#222" stroke-width="0.90" />
<path d="M245.20 464.40 L251.64 459.65 L250.86 464.18 Z" fill="#222"/>
<path d="M227.00 508.75 L288.50 468.60" fill="none" stroke="#222" stroke-width="0.90" />
<path d="M288.50 468.60 L297.55 462.34 L295.67 467.50 Z" fill="#222"/>
<path d="M247.00 526.25 L296.00 496.90" fill="none" stroke="#222" stroke-width="0.90" />
<path d="M296.00 496.90 L303.57 492.02 L302.17 496.70 Z" fill="#222"/>
<path d="M482.50 519.40 L656.80 519.40" fill="none" stroke="#303030" stroke-width="0.90" />
<path d="M482.50 519.40 L358.40 541.20" fill="none" stroke="#303030" stroke-width="0.90" />
<path d="M358.40 541.20 L366.92 537.67 L367.61 541.61 Z" fill="#303030"/>
<text font-size="13.5"><tspan x="277.1" y="20.0" font-size="14.4" stroke="#1e1e1e" stroke-width="0.5" style="font-weight:bold;font-family:'Noto Serif CJK SC',serif">Ⅱ</tspan><tspan x="290.5" y="20.3" textLength="81" lengthAdjust="spacing" style="font-weight:700">路接备用电源</tspan></text>
<text font-size="12.1"><tspan x="1.4" y="51.6" font-size="13.5" style="font-weight:bold;font-family:'Noto Serif CJK SC',serif">Ⅰ</tspan><tspan x="12.5" y="51.2" textLength="72.5" lengthAdjust="spacing">路接常用电源</tspan></text>
<text x="485.5" y="49.0" font-size="12.4" textLength="98.2" lengthAdjust="spacing" >转换开关电控部分</text>
<text x="484.8" y="77.0" font-size="12.4" textLength="121.0" lengthAdjust="spacing" >201-206开关控制端子</text>
<text x="484.4" y="155.8" font-size="12.4" textLength="169.5" lengthAdjust="spacing" >101-106控制电源输入、输出端</text>
<text x="484.4" y="193.6" font-size="12.4" textLength="169.5" lengthAdjust="spacing" >301-306开关工作状态指示端子</text>
<text x="484.4" y="222.5" font-size="12.4" textLength="199.6" lengthAdjust="spacing" >401-406开关工作状态指示端子(选装)</text>
<text x="483.0" y="243.9" font-size="12.4" textLength="138.0" lengthAdjust="spacing" >自动/手动选择电气钥匙锁</text>
<text x="484.4" y="267.4" font-size="12.4" textLength="199.6" lengthAdjust="spacing" >501-506开关工作状态指示端子(选装)</text>
<text x="48.0" y="199.5" font-size="12.4" textLength="73.5" lengthAdjust="spacing" >安全防护板*2</text>
<text x="25.0" y="254.4" font-size="12.4" textLength="94.0" lengthAdjust="spacing" >开关状态位置指示</text>
<text x="24.0" y="271.9" font-size="12.4" textLength="98.0" lengthAdjust="spacing" >手动状态下可插入</text>
<text x="24.0" y="287.4" font-size="12.4" textLength="98.0" lengthAdjust="spacing" >手柄进行电源切换</text>
<text x="418.0" y="313.2" font-size="12.4" textLength="49.3" lengthAdjust="spacing" >机械挂锁</text>
<text x="500.0" y="364.7" font-size="12.4" textLength="114.0" lengthAdjust="spacing" >安全防护罩安装孔*4</text>
<text x="39.4" y="395.1" font-size="12.4" textLength="48.2" lengthAdjust="spacing" >开关支架</text>
<text x="32.4" y="409.5" font-size="12.4" textLength="72.9" lengthAdjust="spacing" >用于固定开关</text>
<text x="43.5" y="466.3" font-size="12.4" textLength="60.1" lengthAdjust="spacing" >负载输出端</text>
<text x="48.5" y="482.1" font-size="12.4" textLength="53.5" lengthAdjust="spacing" >L型连接排</text>
<text x="521.9" y="517.0" font-size="12.4" textLength="47.6" lengthAdjust="spacing" >开关支座</text>
<text x="514.4" y="533.1" font-size="12.4" textLength="72.0" lengthAdjust="spacing" >用于固定开关</text>
<g class="sm"><text x="167.3" y="110.4" font-size="5.6" font-weight="bold" stroke="#1e1e1e" stroke-width="0.4">A</text></g>
<g class="sm"><text x="192.1" y="124.9" font-size="5.6" font-weight="bold" stroke="#1e1e1e" stroke-width="0.4">B</text></g>
<g class="sm"><text x="216.9" y="139.4" font-size="5.6" font-weight="bold" stroke="#1e1e1e" stroke-width="0.4">C</text></g>
<g class="sm"><text x="241.7" y="153.9" font-size="5.6" font-weight="bold" stroke="#1e1e1e" stroke-width="0.4">N</text></g>
<g class="sm"><text x="0" y="0" font-size="6.2" font-weight="bold" textLength="27" lengthAdjust="spacingAndGlyphs" transform="translate(272.6,165.6) skewY(30)" stroke="#1e1e1e" stroke-width="1.3">SUYANG</text></g>
<g class="sm"><text x="0" y="0" font-size="9.6" font-weight="bold" textLength="18" lengthAdjust="spacingAndGlyphs" transform="translate(279.8,222.6) skewY(28)" stroke="#1e1e1e" stroke-width="1.1">ATS</text></g>
<g class="sm"><text x="287.8" y="342.8" font-size="5.4" font-weight="bold" stroke="#1e1e1e" stroke-width="0.4">A</text></g>
<g class="sm"><text x="288.2" y="377.0" font-size="4.4" font-weight="bold" stroke="#1e1e1e" stroke-width="0.4">A</text></g>
<g class="sm"><text x="311.5" y="357.8" font-size="5.4" font-weight="bold" stroke="#1e1e1e" stroke-width="0.4">B</text></g>
<g class="sm"><text x="312.0" y="391.9" font-size="4.4" font-weight="bold" stroke="#1e1e1e" stroke-width="0.4">B</text></g>
<g class="sm"><text x="335.2" y="372.7" font-size="5.4" font-weight="bold" stroke="#1e1e1e" stroke-width="0.4">C</text></g>
<g class="sm"><text x="335.8" y="406.8" font-size="4.4" font-weight="bold" stroke="#1e1e1e" stroke-width="0.4">C</text></g>
<g class="sm"><text x="358.9" y="387.7" font-size="5.4" font-weight="bold" stroke="#1e1e1e" stroke-width="0.4">N</text></g>
<g class="sm"><text x="359.6" y="421.7" font-size="4.4" font-weight="bold" stroke="#1e1e1e" stroke-width="0.4">N</text></g>
<g class="sm"><text x="0" y="0" font-size="6.2" font-weight="bold" textLength="26" lengthAdjust="spacingAndGlyphs" transform="translate(387.5,398.5) skewY(33)" stroke="#1e1e1e" stroke-width="1.2">SUYANG</text></g>
<g class="sm"><text x="0" y="0" font-size="8.2" font-weight="bold" textLength="17" lengthAdjust="spacingAndGlyphs" transform="translate(393.2,446.0) skewY(33)" stroke="#1e1e1e" stroke-width="1.1">ATS</text></g>
</g>
</svg>
</body></html>
